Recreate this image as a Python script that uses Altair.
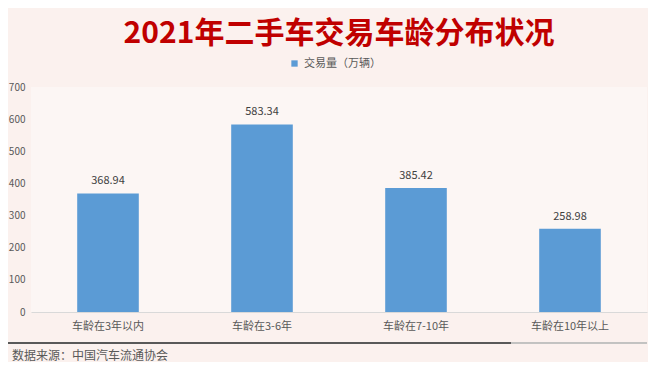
import altair as alt
import pandas as pd

categories = ["车龄在3年以内", "车龄在3-6年", "车龄在7-10年", "车龄在10年以上"]
values = [368.94, 583.34, 385.42, 258.98]
series_name = "交易量（万辆）"
title_text = "2021年二手车交易车龄分布状况"
source_text = "数据来源：中国汽车流通协会"
y_ticks = [0, 100, 200, 300, 400, 500, 600, 700]

df = pd.DataFrame({"cat": categories, "val": values, "series": [series_name] * len(categories)})
df["label"] = [f"{v:.2f}" for v in values]

FONT = "Noto Sans CJK SC"
W, H = 616, 225

x = alt.X("cat:N", sort=categories, title=None,
          scale=alt.Scale(paddingInner=0.6, paddingOuter=0.3),
          axis=alt.Axis(labelAngle=0, labelFont=FONT, labelFontSize=11, labelColor="#595959",
                        labelPadding=8, ticks=False, domainColor="#d9d9d9", grid=False))
y = alt.Y("val:Q", title=None,
          scale=alt.Scale(domain=[0, 700]),
          axis=alt.Axis(values=y_ticks, tickCount=8, labelFont=FONT, labelFontSize=10,
                        labelColor="#595959", labelPadding=6, ticks=False, domain=False,
                        grid=False, labelOverlap=False, labelBound=False))

bars = alt.Chart(df).mark_bar(color="#5b9bd5").encode(
    x=x, y=y,
    color=alt.Color("series:N", scale=alt.Scale(range=["#5b9bd5"]),
                    legend=alt.Legend(title=None, orient="none", legendX=258, legendY=-29,
                                      symbolType="square", symbolSize=40,
                                      labelFont=FONT, labelFontSize=11, labelColor="#595959"))
)

labels = alt.Chart(df).mark_text(dy=-12, font=FONT, fontSize=11, color="#404040").encode(
    x=x, y=y, text="label:N"
)

sep = alt.Chart(df).mark_rule(color="#595959", strokeWidth=2).encode(
    x=alt.value(-23), x2=alt.value(480), y=alt.value(H + 31)
)
sep2 = alt.Chart(df).mark_rule(color="#bfbfbf", strokeWidth=1).encode(
    x=alt.value(480), x2=alt.value(W), y=alt.value(H + 31)
)

source = alt.Chart(pd.DataFrame({"t": [source_text]})).mark_text(
    align="left", baseline="middle", font=FONT, fontSize=12, color="#595959"
).encode(x=alt.value(-19), y=alt.value(H + 44), text="t:N")

chart = alt.layer(bars, labels, sep, sep2, source).properties(
    width=W, height=H,
    title=alt.TitleParams(title_text, font=FONT, fontSize=30, fontWeight="bold",
                          color="#c00000", anchor="middle", offset=9),
    autosize=alt.AutoSizeParams(type="none"),
    padding={"left": 23, "top": 79, "right": 1, "bottom": 50},
    background="#fbf1ee",
).configure_view(stroke=None, fill="#fcf6f4").configure_axisY(labelOverlap=False)

chart.save("out.html", embed_options={"renderer": "svg", "actions": False})
